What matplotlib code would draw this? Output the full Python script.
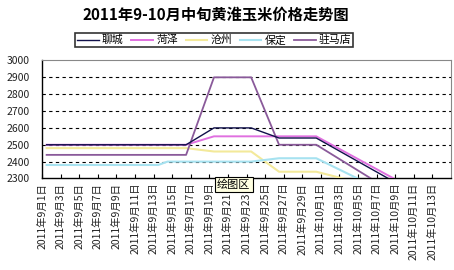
import matplotlib
matplotlib.use("Agg")
import matplotlib.pyplot as plt
from datetime import date, timedelta

plt.rcParams['font.family'] = ['Noto Sans CJK SC', 'DejaVu Sans']

# data points (dates) and prices, yuan/ton
point_dates = ["2011-09-01", "2011-09-13", "2011-09-14", "2011-09-16", "2011-09-19",
               "2011-09-23", "2011-09-26", "2011-09-30", "2011-10-10"]
liaocheng = [2500, 2500, 2500, 2500, 2600, 2600, 2540, 2540, 2230]
heze = [2500, 2500, 2500, 2500, 2550, 2550, 2550, 2550, 2250]
cangzhou = [2480, 2480, 2480, 2480, 2460, 2460, 2340, 2340, 2200]
baoding = [2380, 2380, 2400, 2400, 2400, 2400, 2420, 2420, 2150]
zhumadian = [2440, 2440, 2440, 2440, 2900, 2900, 2500, 2500, 2160]

names = ["聊城", "菏泽", "沧州", "保定", "驻马店"]
colors = ["#10104a", "#e070e0", "#f3e99a", "#a6e2f0", "#8a5a9a"]

start = date(2011, 9, 1)
# excel date axis: each day is a slot, point sits in the middle of it
xs = [(date.fromisoformat(d) - start).days + 0.5 for d in point_dates]

tick_days = list(range(0, 43, 2))
tick_labels = []
for d in tick_days:
    day = start + timedelta(days=d)
    tick_labels.append("2011年%d月%d日" % (day.month, day.day))

fig = plt.figure(figsize=(4.54, 2.70), dpi=100)
ax = fig.add_axes([0.0925, 0.339, 0.901, 0.437])

for yv in range(2400, 3000, 100):
    ax.axhline(yv, color="black", lw=0.8, ls=(0, (3, 3)), zorder=1)

series = [liaocheng, heze, cangzhou, baoding, zhumadian]
widths = [1.0, 1.4, 1.5, 1.5, 1.3]
order = [2, 3, 1, 4, 0]
handles = {}
for i in order:
    ln, = ax.plot(xs, series[i], color=colors[i], lw=widths[i], zorder=3)
    handles[i] = ln

ax.set_xlim(0, 44)
ax.set_ylim(2300, 3000)
ax.set_yticks(range(2300, 3001, 100))
ax.set_xticks(tick_days)
ax.set_xticklabels(tick_labels, rotation=90, fontsize=7.5, color="#222222")
ax.tick_params(axis="x", direction="in", length=3, pad=3, width=0.8)
ax.tick_params(axis="y", length=0, pad=9, labelsize=7.5, labelcolor="#222222")
for s in ["top", "right"]:
    ax.spines[s].set_color("#888888")
    ax.spines[s].set_linewidth(0.8)
for s in ["left", "bottom"]:
    ax.spines[s].set_color("black")
    ax.spines[s].set_linewidth(1.0)

fig.text(0.475, 0.945, "2011年9-10月中旬黄淮玉米价格走势图", ha="center", va="center",
         fontsize=11, fontweight="bold")

leg = fig.legend([handles[i] for i in range(5)], names, loc="center", ncol=5,
                 bbox_to_anchor=(0.472, 0.852), fontsize=7.8, frameon=True, fancybox=False,
                 handlelength=2.0, handletextpad=0.3, columnspacing=0.7,
                 borderpad=0.15, edgecolor="black")
leg.get_frame().set_linewidth(1.2)

# tooltip left over in the screenshot
fig.text(0.478, 0.315, "绘图区", ha="left", va="center", fontsize=8,
         bbox=dict(boxstyle="square,pad=0.2", facecolor="#ffffe1", edgecolor="black", lw=0.8))

fig.savefig("out.png", dpi=100)
